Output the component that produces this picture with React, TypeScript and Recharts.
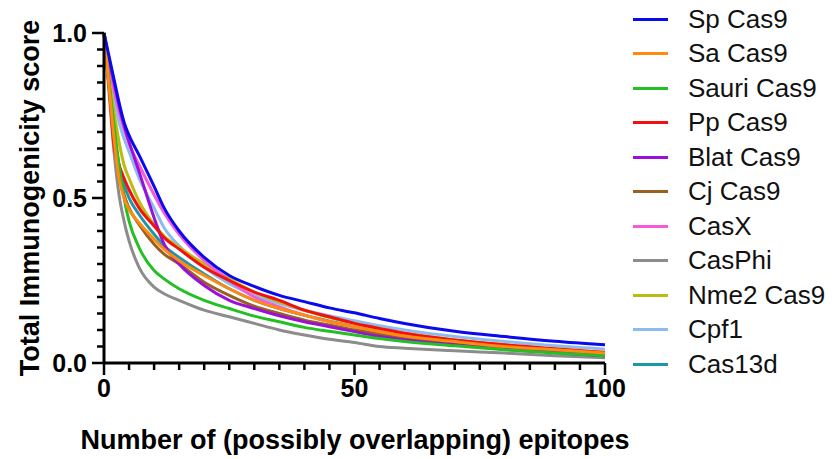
import React from 'react';
import { LineChart, Line, XAxis, YAxis } from 'recharts';

// epitope counts (x) shared by every series
const EPITOPES = [0, 1, 2, 3, 4, 5, 7, 10, 12, 15, 20, 25, 30, 35, 40, 45, 50, 55, 60, 70, 80, 90, 100];

const SP_CAS9 = [1, 0.93, 0.86, 0.79, 0.73, 0.69, 0.63, 0.535, 0.47, 0.4, 0.32, 0.265, 0.232, 0.205, 0.186, 0.167, 0.152, 0.135, 0.12, 0.096, 0.08, 0.066, 0.055];
const SA_CAS9 = [1, 0.84, 0.68, 0.56, 0.5, 0.465, 0.425, 0.375, 0.345, 0.31, 0.265, 0.225, 0.19, 0.165, 0.145, 0.125, 0.11, 0.095, 0.082, 0.065, 0.05, 0.04, 0.03];
const SAURI_CAS9 = [1, 0.85, 0.72, 0.6, 0.5, 0.43, 0.35, 0.28, 0.255, 0.225, 0.19, 0.165, 0.142, 0.125, 0.108, 0.096, 0.085, 0.074, 0.065, 0.052, 0.04, 0.03, 0.022];
const PP_CAS9 = [1, 0.84, 0.66, 0.6, 0.56, 0.525, 0.47, 0.415, 0.38, 0.345, 0.29, 0.25, 0.215, 0.19, 0.16, 0.14, 0.12, 0.105, 0.09, 0.07, 0.055, 0.043, 0.032];
const BLAT_CAS9 = [1, 0.92, 0.85, 0.78, 0.72, 0.67, 0.58, 0.44, 0.36, 0.3, 0.235, 0.19, 0.165, 0.143, 0.125, 0.11, 0.095, 0.08, 0.07, 0.055, 0.042, 0.032, 0.022];
const CJ_CAS9 = [1, 0.85, 0.7, 0.58, 0.51, 0.47, 0.42, 0.36, 0.33, 0.3, 0.245, 0.205, 0.172, 0.15, 0.13, 0.115, 0.1, 0.087, 0.075, 0.058, 0.045, 0.035, 0.025];
const CASX = [1, 0.91, 0.83, 0.76, 0.71, 0.665, 0.6, 0.51, 0.455, 0.39, 0.31, 0.25, 0.2, 0.17, 0.145, 0.125, 0.11, 0.095, 0.082, 0.063, 0.05, 0.038, 0.028];
const CASPHI = [1, 0.82, 0.64, 0.51, 0.43, 0.37, 0.29, 0.23, 0.21, 0.19, 0.16, 0.14, 0.12, 0.1, 0.085, 0.072, 0.062, 0.05, 0.045, 0.037, 0.03, 0.022, 0.016];
const NME2_CAS9 = [1, 0.87, 0.76, 0.67, 0.6, 0.56, 0.49, 0.42, 0.385, 0.35, 0.3, 0.255, 0.215, 0.185, 0.16, 0.138, 0.12, 0.103, 0.09, 0.07, 0.055, 0.042, 0.032];
const CPF1 = [1, 0.89, 0.8, 0.73, 0.68, 0.64, 0.56, 0.47, 0.41, 0.355, 0.29, 0.24, 0.205, 0.18, 0.16, 0.143, 0.128, 0.113, 0.1, 0.08, 0.065, 0.052, 0.042];
const CAS13D = [1, 0.84, 0.7, 0.6, 0.54, 0.5, 0.45, 0.39, 0.355, 0.32, 0.27, 0.225, 0.19, 0.165, 0.145, 0.127, 0.11, 0.096, 0.083, 0.065, 0.05, 0.039, 0.028];

const X_TICKS = [0, 5, 10, 15, 20, 25, 30, 35, 40, 45, 50, 55, 60, 65, 70, 75, 80, 85, 90, 95, 100];
const Y_TICKS = [0, 0.05, 0.1, 0.15, 0.2, 0.25, 0.3, 0.35, 0.4, 0.45, 0.5, 0.55, 0.6, 0.65, 0.7, 0.75, 0.8, 0.85, 0.9, 0.95, 1];

const SERIES = [
    { key: 'sp', name: 'Sp Cas9', color: '#0a0aee', values: SP_CAS9 },
    { key: 'sa', name: 'Sa Cas9', color: '#ff8a10', values: SA_CAS9 },
    { key: 'sauri', name: 'Sauri Cas9', color: '#22c022', values: SAURI_CAS9 },
    { key: 'pp', name: 'Pp Cas9', color: '#f51010', values: PP_CAS9 },
    { key: 'blat', name: 'Blat Cas9', color: '#9a10d8', values: BLAT_CAS9 },
    { key: 'cj', name: 'Cj Cas9', color: '#9a6020', values: CJ_CAS9 },
    { key: 'casx', name: 'CasX', color: '#f55ad8', values: CASX },
    { key: 'casphi', name: 'CasPhi', color: '#8c8c8c', values: CASPHI },
    { key: 'nme2', name: 'Nme2 Cas9', color: '#bcbc10', values: NME2_CAS9 },
    { key: 'cpf1', name: 'Cpf1', color: '#8cbcee', values: CPF1 },
    { key: 'cas13d', name: 'Cas13d', color: '#1a98aa', values: CAS13D },
];

const data = EPITOPES.map((x, i) => {
    const row: any = { x };
    SERIES.forEach(s => { row[s.key] = s.values[i]; });
    return row;
});

const FONT = '"Liberation Sans", Arial, sans-serif';

const XTick = ({ x, y, payload }: any) => {
    const major = payload.value % 50 === 0;
    return (
        <g>
            <line x1={x} x2={x} y1={y} y2={y + (major ? 12 : 7)} stroke="#000" strokeWidth={2.5} />
            {major && (
                <text x={x} y={y + 34} textAnchor="middle" fontSize={25} fontWeight="bold" fontFamily={FONT} fill="#000">
                    {payload.value}
                </text>
            )}
        </g>
    );
};

const YTick = ({ x, y, payload }: any) => {
    const v = payload.value;
    const major = Math.abs(v * 2 - Math.round(v * 2)) < 1e-6;
    return (
        <g>
            <line x1={x} x2={x - (major ? 12 : 7)} y1={y} y2={y} stroke="#000" strokeWidth={2.5} />
            {major && (
                <text x={x - 17} y={y + 9} textAnchor="end" fontSize={25} fontWeight="bold" fontFamily={FONT} fill="#000">
                    {v.toFixed(1)}
                </text>
            )}
        </g>
    );
};

const Legend = () => (
    <div style={{ position: 'absolute', left: 633, top: 0, fontFamily: FONT }}>
        {SERIES.map((s, i) => (
            <div key={s.key} style={{ position: 'absolute', top: 19 + i * 34.5 - 15, left: 0, height: 30, display: 'flex', alignItems: 'center', whiteSpace: 'nowrap' }}>
                <div style={{ width: 35, height: 3, background: s.color }} />
                <span style={{ marginLeft: 20, fontSize: 26, color: '#111' }}>{s.name}</span>
            </div>
        ))}
    </div>
);

export default function App() {
    return (
        <div style={{ position: 'absolute', left: 0, top: 0, width: 834, height: 459, background: '#fff', overflow: 'hidden' }}>
            <LineChart width={834} height={459} data={data} margin={{ top: 33, right: 229, bottom: 0, left: 0 }}>
                <XAxis
                    dataKey="x"
                    type="number"
                    domain={[0, 100]}
                    ticks={X_TICKS}
                    interval={0}
                    height={96}
                    tickSize={0}
                    tickMargin={0}
                    tickLine={false}
                    axisLine={{ stroke: '#000', strokeWidth: 3 }}
                    tick={<XTick />}
                    label={() => (
                        <text x={355} y={449} textAnchor="middle" fontSize={27} fontWeight="bold" fontFamily={FONT} fill="#000">
                            Number of (possibly overlapping) epitopes
                        </text>
                    )}
                />
                <YAxis
                    type="number"
                    domain={[0, 1]}
                    ticks={Y_TICKS}
                    interval={0}
                    width={104}
                    tickSize={0}
                    tickMargin={0}
                    tickLine={false}
                    axisLine={{ stroke: '#000', strokeWidth: 3 }}
                    tick={<YTick />}
                    label={() => (
                        <text transform="translate(39,198) rotate(-90)" textAnchor="middle" fontSize={27} fontWeight="bold" fontFamily={FONT} fill="#000">
                            Total Immunogenicity score
                        </text>
                    )}
                />
                {[...SERIES].reverse().map(s => (
                    <Line
                        key={s.key}
                        dataKey={s.key}
                        name={s.name}
                        type="monotone"
                        stroke={s.color}
                        strokeWidth={3}
                        dot={false}
                        isAnimationActive={false}
                    />
                ))}
            </LineChart>
            <Legend />
        </div>
    );
}
